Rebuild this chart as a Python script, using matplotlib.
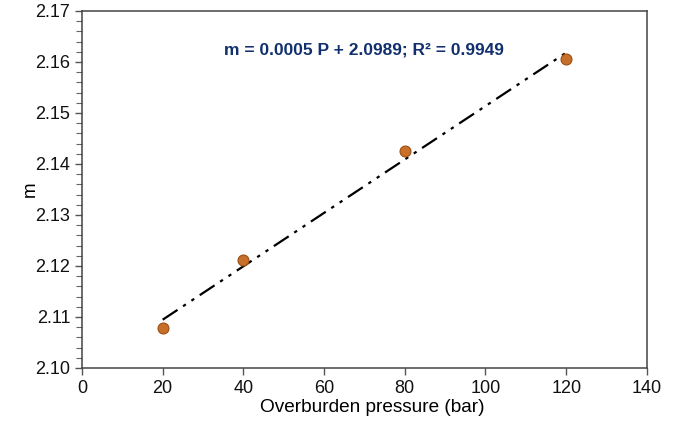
import numpy as np
import matplotlib
matplotlib.use("Agg")
import matplotlib.pyplot as plt
from matplotlib.ticker import MultipleLocator

pressure = [20, 40, 80, 120]          # bar
m_values = [2.1078, 2.1212, 2.1425, 2.1606]

x_ticks = [0, 20, 40, 60, 80, 100, 120, 140]
y_ticks = [2.10, 2.11, 2.12, 2.13, 2.14, 2.15, 2.16, 2.17]

# trend line equation as reported
eq_slope = 0.0005
eq_intercept = 2.0989
eq_r2 = 0.9949

plt.rcParams["font.family"] = ["Liberation Sans", "DejaVu Sans"]

# linear fit of m against overburden pressure
slope, intercept = np.polyfit(pressure, m_values, 1)

fig = plt.figure(figsize=(6.86, 4.21), dpi=100)
ax = fig.add_axes([0.1195, 0.126, 0.8235, 0.848])

fit_x = np.array([pressure[0], pressure[-1]])
ax.plot(fit_x, slope * fit_x + intercept, color="black", lw=1.6,
        dashes=(8, 3, 1.5, 3, 1.5, 3), zorder=2)
ax.scatter(pressure, m_values, s=62, color="#c8702a", edgecolors="#9a4f14",
           linewidths=0.8, zorder=3)

ax.text(0.5, 0.89,
        f"m = {eq_slope:.4f} P + {eq_intercept:.4f}; R\u00b2 = {eq_r2:.4f}",
        transform=ax.transAxes, ha="center", va="center",
        fontsize=12.5, fontweight="bold", color="#12306e")

ax.set_xlim(0, 140)
ax.set_ylim(2.10, 2.17)
ax.set_xticks(x_ticks)
ax.set_yticks(y_ticks)
ax.set_yticklabels([f"{v:.2f}" for v in y_ticks])
ax.yaxis.set_minor_locator(MultipleLocator(0.002))
ax.tick_params(axis="both", which="major", labelsize=13, direction="out",
               length=5, width=1, color="#555555", labelcolor="#111111")
ax.tick_params(axis="y", which="minor", direction="out", length=4,
               width=0.8, color="#666666")
for sp in ax.spines.values():
    sp.set_color("#444444")
    sp.set_linewidth(1.1)

ax.set_xlabel("Overburden pressure (bar)", fontsize=13.7)
ax.set_ylabel("m", fontsize=13.5)
ax.xaxis.set_label_coords(0.514, -0.087, transform=ax.transAxes)
ax.xaxis.label.set_va("top")
ax.yaxis.set_label_coords(-0.076, 0.5, transform=ax.transAxes)

fig.savefig("out.png", dpi=100)
